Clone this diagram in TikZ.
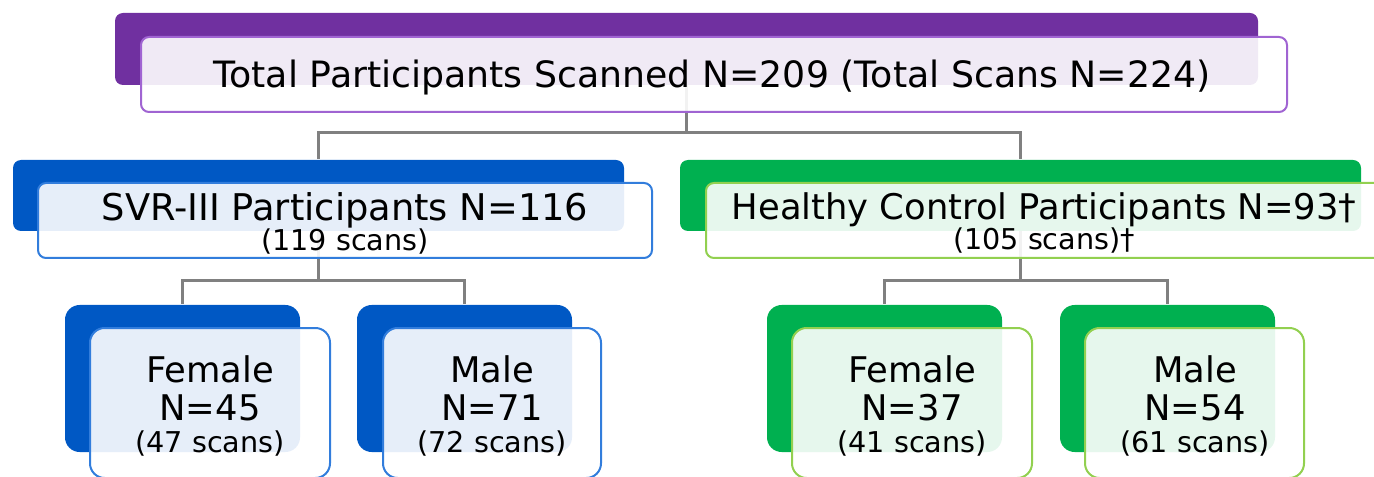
\documentclass[tikz,border=0pt]{standalone}
\usepackage{fontspec}
\setmainfont{DejaVu Sans}
\usetikzlibrary{fit}

\definecolor{totpurple}{RGB}{112,48,160}
\definecolor{totline}{RGB}{160,100,210}
\definecolor{svrblue}{RGB}{0,88,196}
\definecolor{svrline}{RGB}{50,125,220}
\definecolor{hcgreen}{RGB}{0,176,80}
\definecolor{hcline}{RGB}{146,208,80}
\definecolor{linkgray}{RGB}{128,128,128}

\newcommand{\scansize}{\fontsize{21.5}{24}\selectfont}

\tikzset{every picture/.style={line width=0.75pt}}

\begin{document}
\begin{tikzpicture}[x=0.75pt,y=0.75pt,yscale=-1,xscale=1,
  backbox/.style={fill=#1, inner sep=0pt, rounded corners=6pt},
  frontbox/.style={draw=#1, line width=1.5pt, fill=white, fill opacity=0.9, inner sep=0pt, rounded corners=6pt},
  link/.style={draw=linkgray, line width=2.2pt},
  bigtxt/.style={font=\fontsize{26.5}{28.5}\selectfont, align=center, inner sep=0pt}]
\useasboundingbox (0,0) rectangle (1374,477);
\clip (0,0) rectangle (1374,477);

%Rounded Rect (back)
\node (totback) [backbox=totpurple, fit={(115,13) (1258,85)}] {};
\node (svrback) [backbox=svrblue, fit={(13,160) (624,231)}] {};
\node (hcback) [backbox=hcgreen, fit={(680,160) (1361,231)}] {};
\node (svrfback) [backbox=svrblue, rounded corners=11pt, fit={(65,305) (300,452)}] {};
\node (svrmback) [backbox=svrblue, rounded corners=11pt, fit={(357,305) (572,452)}] {};
\node (hcfback) [backbox=hcgreen, rounded corners=11pt, fit={(767,305) (1002,452)}] {};
\node (hcmback) [backbox=hcgreen, rounded corners=11pt, fit={(1060,305) (1275,452)}] {};

%Straight Lines
\draw [link] (totback.south) -- ++(0,47) -| (svrback.north);
\draw [link] (totback.south) -- ++(0,47) -| (hcback.north);
\draw [link] (svrback.south) -- ++(0,49) -| (svrfback.north);
\draw [link] (svrback.south) -- ++(0,49) -| (svrmback.north);
\draw [link] (hcback.south) -- ++(0,49) -| (hcfback.north);
\draw [link] (hcback.south) -- ++(0,49) -| (hcmback.north);

%Rounded Rect (front)
\node (totfront) [frontbox=totline, fit={(141,37) (1287,112)}] {};
\node (svrfront) [frontbox=svrline, fit={(38,183) (652,258)}] {};
\node (hcfront) [frontbox=hcline, fit={(706,183) (1387,258)}] {};
\node (svrffront) [frontbox=svrline, rounded corners=11pt, fit={(90,328) (330,478)}] {};
\node (svrmfront) [frontbox=svrline, rounded corners=11pt, fit={(383,328) (601,478)}] {};
\node (hcffront) [frontbox=hcline, rounded corners=11pt, fit={(792,328) (1032,478)}] {};
\node (hcmfront) [frontbox=hcline, rounded corners=11pt, fit={(1085,328) (1304,478)}] {};

% Text Node
\node (tottxt) [bigtxt, font=\fontsize{27.2}{29}\selectfont] at (712,77) {Total Participants Scanned N=209 (Total Scans N=224)};
% Text Node
\node (svrtxt) [bigtxt, font=\fontsize{27.6}{28.5}\selectfont] at (345,223) {SVR-III Participants N=116\\[-6pt]{\scansize (119 scans)}};
% Text Node
\node (hctxt) [bigtxt] at (1044,223) {Healthy Control Participants N=93†\\[-6pt]{\scansize (105 scans)†}};
% Text Node
\node (svrftxt) [bigtxt] at (210,406) {Female\\N=45\\[-4pt]{\scansize (47 scans)}};
% Text Node
\node (svrmtxt) [bigtxt] at (492,406) {Male\\N=71\\[-4pt]{\scansize (72 scans)}};
% Text Node
\node (hcftxt) [bigtxt] at (912,406) {Female\\N=37\\[-4pt]{\scansize (41 scans)}};
% Text Node
\node (hcmtxt) [bigtxt] at (1195,406) {Male\\N=54\\[-4pt]{\scansize (61 scans)}};
\end{tikzpicture}
\end{document}
